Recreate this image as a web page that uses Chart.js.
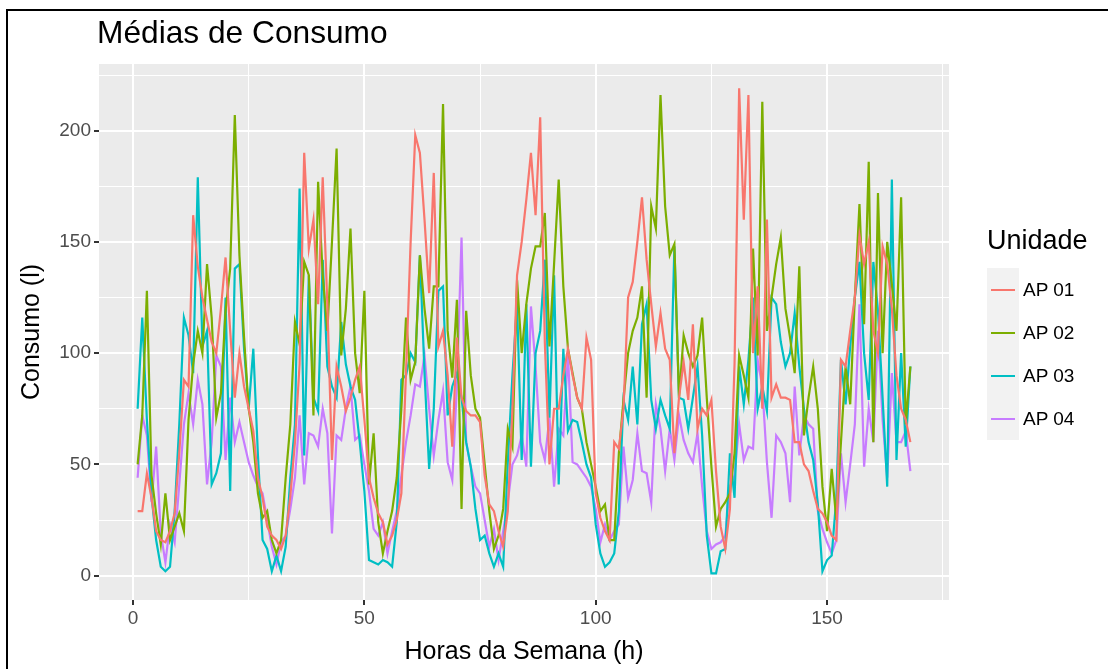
<!DOCTYPE html>
<html>
<head>
<meta charset="utf-8">
<title>Médias de Consumo</title>
<script src="https://cdn.jsdelivr.net/npm/chart.js@4.4.1/dist/chart.umd.min.js"></script>
<style>
  html, body { margin: 0; padding: 0; background: #fff; }
  body { width: 1108px; height: 669px; position: relative; overflow: hidden; font-family: "Liberation Sans", Arial, sans-serif; }
  #frame { position: absolute; left: 6px; top: 9px; width: 1200px; height: 800px; border: 2px solid #000; }
  #chart { position: absolute; left: 0; top: 0; }
  #title { position: absolute; left: 97px; top: 17px; font-size: 31.7px; line-height: 1; color: #000; white-space: nowrap; }
  #legend { position: absolute; left: 987px; top: 227px; }
  #legend .head { font-size: 27px; line-height: 1; color: #000; margin-bottom: 14px; }
  #legend .row { display: flex; align-items: center; height: 43px; }
  #legend .key { width: 32px; height: 43px; background: #f2f2f2; display: flex; align-items: center; justify-content: center; }
  #legend .key span { display: block; width: 24px; height: 2px; }
  #legend .lab { font-size: 19px; color: #000; margin-left: 4px; }
</style>
</head>
<body>
<div id="frame"></div>
<canvas id="chart" width="1108" height="669"></canvas>
<div id="title">Médias de Consumo</div>
<div id="legend"></div>
<script>
// hours of the week (x)
const hours = [];
for (let h = 1; h <= 168; h++) hours.push(h);

const units = ['AP 01', 'AP 02', 'AP 03', 'AP 04'];
const colors = ['#F8766D', '#7CAE00', '#00BFC4', '#C77CFF'];

const ap01 = [
  29, 29, 46, 35, 20, 16, 15, 20, 28, 55,
  88, 85, 162, 139, 125, 115, 105, 100, 120, 143,
  110, 80, 100, 85, 75, 65, 44, 35, 22, 18,
  16, 12, 18, 36, 60, 95, 190, 147, 160, 122,
  179, 122, 52, 94, 85, 74, 80, 88, 94, 70,
  44, 35, 28, 24, 14, 18, 25, 37, 91, 150,
  198, 190, 160, 127, 181, 103, 110, 90, 58, 107,
  80, 74, 72, 72, 69, 45, 32, 29, 20, 13,
  29, 75, 135, 150, 169, 190, 162, 206, 105, 50,
  75, 75, 90, 102, 90, 80, 75, 107, 97, 37,
  26, 20, 16, 60, 57, 75, 125, 132, 150, 170,
  142, 122, 103, 118, 102, 97, 55, 80, 96, 79,
  113, 66, 75, 72, 79, 47, 22, 12, 30, 95,
  219, 160, 216, 100, 130, 75, 160, 80, 86, 80,
  80, 79, 60, 60, 50, 47, 38, 30, 28, 24,
  18, 16, 97, 94, 110, 125, 153, 140, 150, 110,
  100, 148, 140, 120, 90, 75, 70, 60
];
const ap02 = [
  50, 72, 128, 45, 28, 14, 37, 16, 22, 28,
  20, 70, 95, 110, 100, 140, 116, 71, 82, 119,
  138, 207, 144, 107, 75, 60, 37, 26, 29, 16,
  10, 16, 44, 68, 114, 104, 141, 135, 72, 177,
  135, 110, 150, 192, 99, 120, 156, 100, 82, 128,
  41, 64, 24, 10, 20, 29, 44, 75, 116, 88,
  96, 144, 120, 102, 130, 130, 212, 110, 89, 124,
  30, 119, 90, 75, 71, 50, 29, 12, 18, 30,
  66, 58, 133, 100, 122, 138, 148, 148, 163, 103,
  140, 178, 130, 102, 91, 80, 75, 60, 50, 40,
  29, 32, 16, 16, 55, 79, 100, 110, 116, 130,
  80, 166, 156, 216, 166, 144, 149, 80, 108, 100,
  94, 99, 116, 80, 49, 22, 30, 33, 37, 55,
  99, 90, 80, 147, 99, 213, 110, 125, 140, 152,
  120, 107, 91, 139, 63, 80, 94, 75, 40, 20,
  48, 25, 60, 94, 77, 125, 167, 113, 186, 60,
  172, 100, 150, 131, 110, 170, 68, 94
];
const ap03 = [
  75, 116, 70, 36, 16, 4, 2, 4, 29, 68,
  116, 108, 91, 179, 103, 110, 41, 46, 55, 125,
  38, 138, 140, 102, 75, 102, 54, 16, 12, 2,
  9, 2, 13, 44, 68, 174, 54, 135, 80, 74,
  142, 94, 85, 80, 114, 95, 85, 79, 60, 38,
  7, 6, 5, 7, 6, 4, 24, 88, 90, 100,
  96, 144, 91, 48, 75, 128, 130, 72, 85, 91,
  80, 60, 49, 30, 16, 18, 10, 4, 10, 4,
  51, 90, 122, 52, 122, 49, 100, 110, 142, 71,
  135, 41, 102, 65, 70, 69, 60, 50, 44, 23,
  10, 4, 6, 10, 29, 79, 70, 94, 68, 113,
  122, 79, 66, 79, 72, 66, 148, 80, 79, 66,
  80, 94, 63, 18, 1, 1, 11, 12, 55, 35,
  94, 77, 97, 125, 75, 85, 74, 125, 122, 105,
  94, 100, 118, 94, 75, 60, 52, 32, 2, 7,
  9, 35, 97, 77, 103, 125, 141, 100, 79, 141,
  119, 80, 40, 178, 52, 100, 58, 94
];
const ap04 = [
  44, 72, 63, 33, 58, 19, 6, 23, 15, 41,
  68, 82, 68, 88, 77, 41, 60, 99, 94, 52,
  80, 60, 69, 60, 51, 45, 40, 37, 25, 13,
  5, 15, 18, 30, 44, 72, 41, 64, 63, 58,
  75, 64, 19, 63, 61, 75, 85, 61, 63, 50,
  38, 21, 18, 24, 10, 20, 29, 45, 60, 72,
  86, 85, 99, 75, 54, 70, 83, 51, 43, 85,
  152, 60, 49, 40, 37, 25, 13, 21, 7, 20,
  33, 50, 54, 63, 49, 121, 94, 60, 52, 71,
  40, 66, 63, 100, 51, 50, 47, 44, 40, 30,
  15, 23, 16, 20, 23, 58, 35, 43, 64, 47,
  46, 33, 77, 66, 47, 66, 52, 72, 61, 55,
  51, 64, 40, 20, 12, 14, 15, 18, 40, 45,
  68, 52, 58, 57, 97, 85, 51, 26, 63, 60,
  55, 33, 85, 54, 72, 68, 66, 29, 21, 15,
  10, 16, 55, 33, 50, 68, 122, 49, 75, 60,
  110, 70, 44, 91, 60, 60, 65, 47
];

const xTicks = [0, 25, 50, 75, 100, 125, 150, 175];
const yTicks = [0, 25, 50, 75, 100, 125, 150, 175, 200, 225];

const series = [ap01, ap02, ap03, ap04];

// grey ggplot panel
const panelBg = {
  id: 'panelBg',
  beforeDraw(chart) {
    const a = chart.chartArea;
    const ctx = chart.ctx;
    ctx.save();
    ctx.fillStyle = '#EBEBEB';
    ctx.fillRect(a.left, a.top, a.right - a.left, a.bottom - a.top);
    ctx.restore();
  }
};

const isMajor = c => c.tick && c.tick.value % 50 === 0;

new Chart(document.getElementById('chart'), {
  type: 'line',
  data: {
    datasets: series.map((vals, i) => ({
      label: units[i],
      data: vals.map((v, j) => ({ x: hours[j], y: v })),
      borderColor: colors[i],
      backgroundColor: colors[i],
      borderWidth: 2.2,
      pointRadius: 0,
      tension: 0,
      fill: false
    }))
  },
  options: {
    responsive: false,
    animation: false,
    devicePixelRatio: 1,
    layout: { padding: { left: 0, right: 159, top: 64, bottom: 0 } },
    plugins: { legend: { display: false }, title: { display: false }, tooltip: { enabled: false } },
    scales: {
      x: {
        type: 'linear',
        min: -7.35,
        max: 176.35,
        afterBuildTicks: s => { s.ticks = xTicks.map(v => ({ value: v })); },
        afterFit: s => { s.height = 69; },
        ticks: {
          autoSkip: false, maxRotation: 0,
          callback: v => (v % 50 === 0 ? String(v) : ''),
          color: '#4D4D4D',
          font: { family: 'Liberation Sans', size: 19 },
          padding: 2
        },
        grid: {
          color: '#FFFFFF',
          lineWidth: c => (isMajor(c) ? 2 : 1),
          tickColor: c => (isMajor(c) ? '#333333' : 'rgba(0,0,0,0)'),
          tickLength: 5,
          tickWidth: 2
        },
        border: { display: false },
        title: {
          display: true,
          text: 'Horas da Semana (h)',
          color: '#000',
          font: { family: 'Liberation Sans', size: 25 },
          padding: { top: 0, bottom: 2 }
        }
      },
      y: {
        min: -10.95,
        max: 229.95,
        afterBuildTicks: s => { s.ticks = yTicks.map(v => ({ value: v })); },
        afterFit: s => { s.width = 99; },
        ticks: {
          callback: v => (v % 50 === 0 ? String(v) : ''),
          color: '#4D4D4D',
          font: { family: 'Liberation Sans', size: 19 },
          padding: 3
        },
        grid: {
          color: '#FFFFFF',
          lineWidth: c => (isMajor(c) ? 2 : 1),
          tickColor: c => (isMajor(c) ? '#333333' : 'rgba(0,0,0,0)'),
          tickLength: 5,
          tickWidth: 2
        },
        border: { display: false },
        title: {
          display: true,
          text: 'Consumo (l)',
          color: '#000',
          font: { family: 'Liberation Sans', size: 25 },
          padding: { top: 17, bottom: 0 }
        }
      }
    }
  },
  plugins: [panelBg]
});

// legend (ggplot style, on the right)
const legend = document.getElementById('legend');
let html = '<div class="head">Unidade</div>';
units.forEach((u, i) => {
  html += '<div class="row"><div class="key"><span style="background:' + colors[i] + '"></span></div>' +
          '<div class="lab">' + u + '</div></div>';
});
legend.innerHTML = html;
</script>
</body>
</html>
